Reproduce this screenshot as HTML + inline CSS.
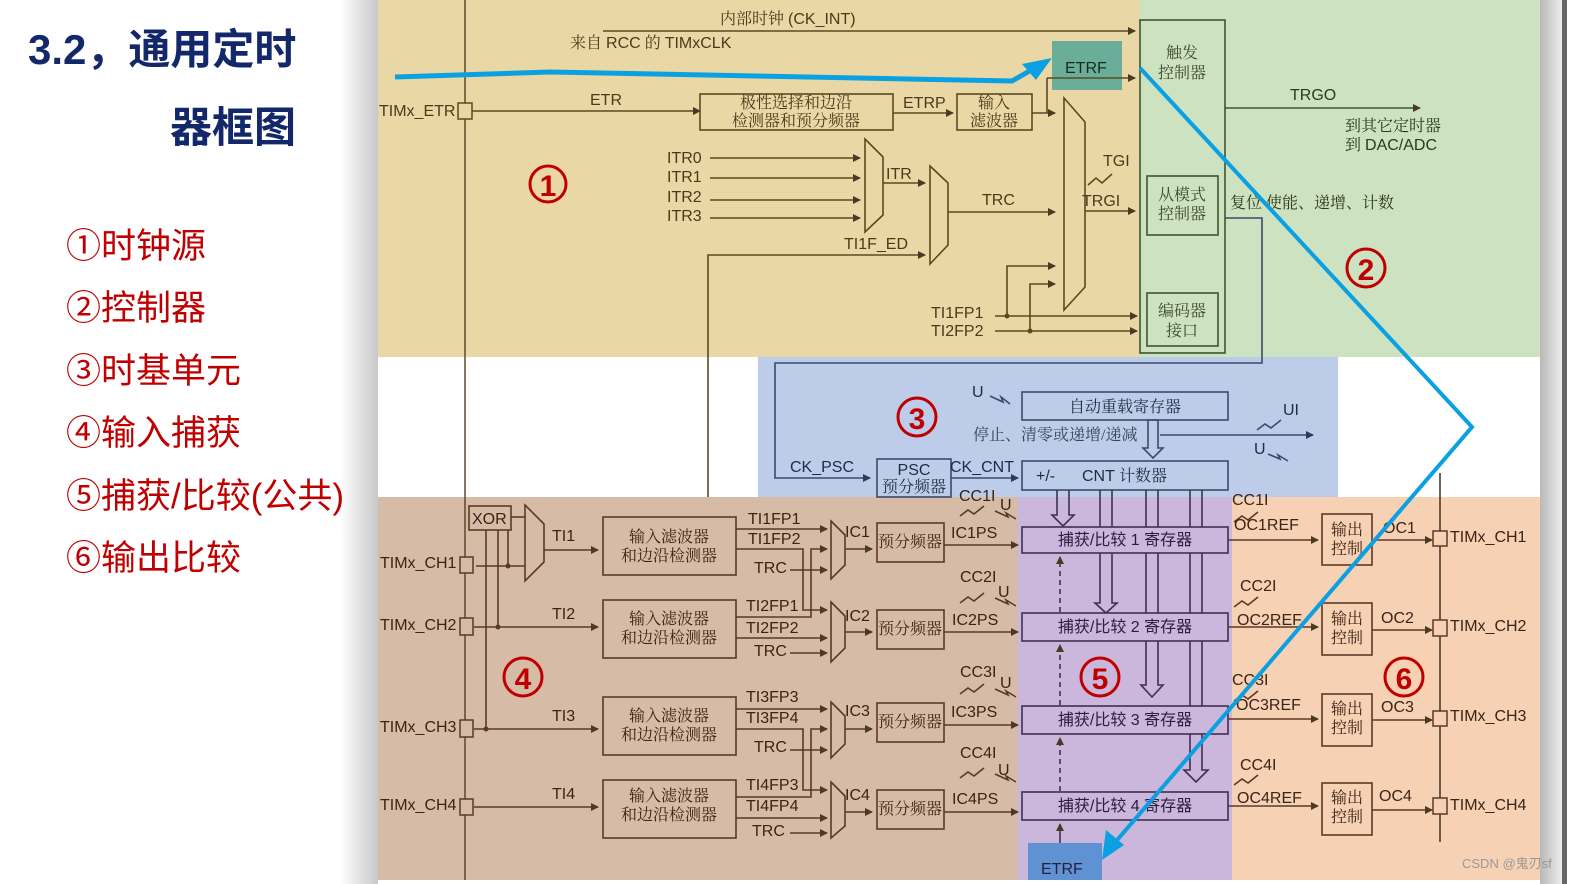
<!DOCTYPE html>
<html><head><meta charset="utf-8"><style>
html,body{margin:0;padding:0;background:#fff;}
svg{display:block;}
.s{font-family:"Liberation Sans","Noto Sans CJK SC",sans-serif;}
.c{font-family:"Liberation Serif","Noto Serif CJK SC",serif;}
</style></head><body>
<svg width="1576" height="884" viewBox="0 0 1576 884" xmlns="http://www.w3.org/2000/svg">
<defs>
<marker id="a" markerWidth="8" markerHeight="8" refX="7" refY="4" orient="auto" markerUnits="userSpaceOnUse"><path d="M0,0 L8,4 L0,8 z" fill="#4a3a22"/></marker>
<marker id="ab" markerWidth="8" markerHeight="8" refX="7" refY="4" orient="auto" markerUnits="userSpaceOnUse"><path d="M0,0 L8,4 L0,8 z" fill="#2e3a58"/></marker>
<linearGradient id="sh" x1="0" x2="1"><stop offset="0" stop-color="#fff"/><stop offset="1" stop-color="#c8c8c8"/></linearGradient>
<linearGradient id="sh2" x1="0" x2="1"><stop offset="0" stop-color="#b8b8b8"/><stop offset="1" stop-color="#eee"/></linearGradient>
</defs>
<rect x="0" y="0" width="1576" height="884" fill="#fff"/>
<rect x="340" y="0" width="38" height="884" fill="url(#sh)"/>
<rect x="1540" y="0" width="22" height="884" fill="url(#sh2)"/>
<rect x="1562" y="0" width="5" height="884" fill="#666"/>
<rect x="378" y="0" width="762" height="357" fill="#ead7a6"/>
<rect x="1140" y="0" width="400" height="357" fill="#cde2c0"/>
<rect x="378" y="357" width="1162" height="140" fill="#fff"/>
<rect x="758" y="357" width="580" height="140" fill="#bdcce9"/>
<rect x="378" y="497" width="640" height="383" fill="#d6bba6"/>
<rect x="1018" y="497" width="214" height="383" fill="#cbb6dc"/>
<rect x="1232" y="497" width="308" height="383" fill="#f7d1b4"/>

<text x="28" y="64" font-size="42" font-weight="bold" fill="#13286a" class="s">3.2，通用定时</text>
<text x="170" y="142" font-size="42" font-weight="bold" fill="#13286a" class="s">器框图</text>
<g font-size="35" fill="#c00000" class="s">
<text x="66" y="258">①时钟源</text>
<text x="66" y="320">②控制器</text>
<text x="66" y="383">③时基单元</text>
<text x="66" y="445">④输入捕获</text>
<text x="66" y="508">⑤捕获/比较(公共)</text>
<text x="66" y="570">⑥输出比较</text>
</g>

<line x1="465" y1="0" x2="465" y2="880" stroke="#5a4a2a" stroke-width="1.5"/>

<g stroke="#5a4a22" stroke-width="1.6" fill="none">
<line x1="603" y1="31" x2="1135" y2="31" marker-end="url(#a)"/>
<line x1="472" y1="111" x2="700" y2="111" marker-end="url(#a)"/>
<rect x="700" y="94" width="193" height="36"/>
<line x1="893" y1="113" x2="953" y2="113" marker-end="url(#a)"/>
<rect x="957" y="94" width="75" height="36"/>
<line x1="1032" y1="113" x2="1055" y2="113" marker-end="url(#a)"/>
<polyline points="1047,113 1047,78"/>
<line x1="710" y1="158" x2="860" y2="158" marker-end="url(#a)"/>
<line x1="710" y1="178" x2="860" y2="178" marker-end="url(#a)"/>
<line x1="710" y1="200" x2="860" y2="200" marker-end="url(#a)"/>
<line x1="710" y1="218" x2="860" y2="218" marker-end="url(#a)"/>
<polygon points="865,139 883,157 883,215 865,232"/>
<line x1="883" y1="183" x2="925" y2="183" marker-end="url(#a)"/>
<polygon points="930,166 948,183 948,245 930,264"/>
<line x1="948" y1="212" x2="1055" y2="212" marker-end="url(#a)"/>
<polyline points="708,497 708,255 925,255" marker-end="url(#a)"/>
<polygon points="1064,98 1085,122 1085,287 1064,310"/>
<line x1="1085" y1="211" x2="1135" y2="211" marker-end="url(#a)"/>
<line x1="995" y1="316" x2="1137" y2="316" marker-end="url(#a)"/>
<line x1="995" y1="331" x2="1137" y2="331" marker-end="url(#a)"/>
<polyline points="1007,316 1007,266 1055,266" marker-end="url(#a)"/>
<polyline points="1030,331 1030,284 1055,284" marker-end="url(#a)"/>
<polyline points="1088,185 1096,178 1102,183 1112,174"/>
</g>
<circle cx="1007" cy="316" r="2.5" fill="#5a4a22"/><circle cx="1030" cy="331" r="2.5" fill="#5a4a22"/>
<rect x="458" y="103" width="14" height="16" fill="#ead7a6" stroke="#5a4a22" stroke-width="1.5"/>
<rect x="1052" y="41" width="70" height="49" fill="#6aae9a"/>
<line x1="1047" y1="78" x2="1135" y2="78" stroke="#5a4a22" stroke-width="1.6" marker-end="url(#a)"/>
<g class="s" font-size="16" fill="#4a3a1a">
<text x="720" y="24" class="c">内部时钟 <tspan class="s">(CK_INT)</tspan></text>
<text x="570" y="48" class="c">来自 <tspan class="s">RCC</tspan> 的 <tspan class="s">TIMxCLK</tspan></text>
<text x="1065" y="73" fill="#1a2a1a">ETRF</text>
<text x="379" y="116">TIMx_ETR</text>
<text x="590" y="105">ETR</text>
<text x="903" y="108">ETRP</text>
<text x="796" y="108" text-anchor="middle" class="c">极性选择和边沿</text>
<text x="796" y="126" text-anchor="middle" class="c">检测器和预分频器</text>
<text x="994" y="108" text-anchor="middle" class="c">输入</text>
<text x="994" y="126" text-anchor="middle" class="c">滤波器</text>
<text x="667" y="163">ITR0</text><text x="667" y="182">ITR1</text><text x="667" y="202">ITR2</text><text x="667" y="221">ITR3</text>
<text x="886" y="179">ITR</text>
<text x="982" y="205">TRC</text>
<text x="844" y="249">TI1F_ED</text>
<text x="1103" y="166">TGI</text>
<text x="1082" y="206">TRGI</text>
<text x="931" y="318">TI1FP1</text>
<text x="931" y="336">TI2FP2</text>
</g>
<circle cx="548" cy="184" r="18" fill="none" stroke="#c00000" stroke-width="3"/>
<text x="548" y="196" text-anchor="middle" font-size="30" font-weight="bold" fill="#c00000" class="s">1</text>

<g stroke="#3e5530" stroke-width="1.6" fill="none">
<rect x="1140" y="20" width="85" height="333"/>
<rect x="1147" y="176" width="71" height="59"/>
<rect x="1147" y="293" width="71" height="53"/>
<line x1="1225" y1="108" x2="1420" y2="108" marker-end="url(#a)"/>
<polyline points="1225,218 1262,218 1262,363 775,363 775,478 870,478" stroke="#3a4a68" marker-end="url(#ab)"/>
</g>
<g class="c" font-size="16" fill="#3a4a2a" text-anchor="middle">
<text x="1182" y="58">触发</text><text x="1182" y="78">控制器</text>
<text x="1182" y="200">从模式</text><text x="1182" y="219">控制器</text>
<text x="1182" y="316">编码器</text><text x="1182" y="336">接口</text>
</g>
<g class="s" font-size="16" fill="#2a3a1a">
<text x="1290" y="100">TRGO</text>
<text x="1345" y="131" class="c">到其它定时器</text>
<text x="1345" y="150" class="c">到 <tspan class="s">DAC/ADC</tspan></text>
<text x="1230" y="208" class="c">复位  使能、递增、计数</text>
</g>
<circle cx="1366" cy="268" r="19" fill="none" stroke="#c00000" stroke-width="3"/>
<text x="1366" y="280" text-anchor="middle" font-size="30" font-weight="bold" fill="#c00000" class="s">2</text>

<g stroke="#3a4a68" stroke-width="1.6" fill="none">
<rect x="877" y="459" width="74" height="38" fill="#bdcce9"/>
<line x1="951" y1="478" x2="1018" y2="478" marker-end="url(#ab)"/>
<rect x="1022" y="392" width="206" height="28"/>
<rect x="1022" y="461" width="206" height="29"/>
<polygon points="1148,420 1158,420 1158,448 1163,448 1153,458 1143,448 1148,448"/>
<line x1="1160" y1="435" x2="1313" y2="435" marker-end="url(#ab)"/>
<polyline points="990,396 1003,402 1001,397 1010,404"/>
<polyline points="1257,430 1265,424 1271,428 1281,420"/>
<polyline points="1268,454 1280,459 1278,455 1288,461"/>
</g>
<g class="s" font-size="16" fill="#1e2a48">
<text x="972" y="397">U</text>
<text x="1283" y="415">UI</text>
<text x="1254" y="454">U</text>
<text x="973" y="440" class="c" fill="#3a4258">停止、清零或递增/递减</text>
<text x="1125" y="412" class="c" text-anchor="middle">自动重载寄存器</text>
<text x="1036" y="481">+/-</text>
<text x="1082" y="481">CNT <tspan class="c">计数器</tspan></text>
<text x="914" y="475" text-anchor="middle">PSC</text>
<text x="914" y="492" text-anchor="middle" class="c">预分频器</text>
<text x="790" y="472">CK_PSC</text>
<text x="950" y="472">CK_CNT</text>
</g>
<circle cx="917" cy="417" r="19" fill="none" stroke="#c00000" stroke-width="3"/>
<text x="917" y="429" text-anchor="middle" font-size="30" font-weight="bold" fill="#c00000" class="s">3</text>

<g stroke="#5a3a26" stroke-width="1.6" fill="none">
<rect x="469" y="506" width="42" height="24"/>
<polygon points="525,505 544,524 544,562 525,581"/>
<line x1="511" y1="517" x2="525" y2="517"/>
<line x1="476" y1="566" x2="525" y2="566"/>
<line x1="508" y1="530" x2="508" y2="566"/>
<line x1="498" y1="530" x2="498" y2="627"/>
<line x1="486" y1="530" x2="486" y2="729"/>
<line x1="544" y1="550" x2="598" y2="550" marker-end="url(#a)"/>
<line x1="474" y1="627" x2="598" y2="627" marker-end="url(#a)"/>
<line x1="474" y1="729" x2="598" y2="729" marker-end="url(#a)"/>
<line x1="474" y1="807" x2="598" y2="807" marker-end="url(#a)"/>
<rect x="603" y="517" width="133" height="58"/>
<rect x="603" y="600" width="133" height="58"/>
<rect x="603" y="697" width="133" height="58"/>
<rect x="603" y="780" width="133" height="58"/>
<line x1="736" y1="529" x2="827" y2="529" marker-end="url(#a)"/>
<polyline points="736,549 803,549 803,610 827,610" marker-end="url(#a)"/>
<polyline points="736,617 811,617 811,549 827,549" marker-end="url(#a)"/>
<line x1="736" y1="638" x2="827" y2="638" marker-end="url(#a)"/>
<line x1="790" y1="570" x2="827" y2="570" marker-end="url(#a)"/>
<line x1="790" y1="653" x2="827" y2="653" marker-end="url(#a)"/>
<line x1="736" y1="709" x2="827" y2="709" marker-end="url(#a)"/>
<polyline points="736,729 803,729 803,790 827,790" marker-end="url(#a)"/>
<polyline points="736,797 811,797 811,729 827,729" marker-end="url(#a)"/>
<line x1="736" y1="818" x2="827" y2="818" marker-end="url(#a)"/>
<line x1="790" y1="750" x2="827" y2="750" marker-end="url(#a)"/>
<line x1="790" y1="833" x2="827" y2="833" marker-end="url(#a)"/>
<polygon points="831,521 845,535 845,565 831,579"/>
<polygon points="831,602 845,616 845,648 831,662"/>
<polygon points="831,702 845,716 845,744 831,758"/>
<polygon points="831,782 845,796 845,826 831,838"/>
<line x1="845" y1="549" x2="872" y2="549" marker-end="url(#a)"/>
<line x1="845" y1="632" x2="872" y2="632" marker-end="url(#a)"/>
<line x1="845" y1="729" x2="872" y2="729" marker-end="url(#a)"/>
<line x1="845" y1="812" x2="872" y2="812" marker-end="url(#a)"/>
<rect x="877" y="523" width="67" height="39"/>
<rect x="877" y="610" width="67" height="39"/>
<rect x="877" y="703" width="67" height="39"/>
<rect x="877" y="790" width="67" height="39"/>
<line x1="944" y1="545" x2="1018" y2="545" marker-end="url(#a)"/>
<line x1="944" y1="632" x2="1018" y2="632" marker-end="url(#a)"/>
<line x1="944" y1="725" x2="1018" y2="725" marker-end="url(#a)"/>
<line x1="944" y1="812" x2="1018" y2="812" marker-end="url(#a)"/>
<polyline points="960,516 968,510 974,514 984,506"/>
<polyline points="960,603 968,597 974,601 984,593"/>
<polyline points="960,694 968,688 974,692 984,684"/>
<polyline points="960,778 968,772 974,776 984,768"/>
<polyline points="995,511 1008,517 1006,513 1016,519"/>
<polyline points="995,598 1008,604 1006,600 1016,606"/>
<polyline points="995,689 1008,695 1006,691 1016,697"/>
<polyline points="995,774 1008,780 1006,776 1016,782"/>
</g>
<g fill="#5a3a26"><circle cx="508" cy="566" r="2.5"/><circle cx="498" cy="627" r="2.5"/><circle cx="486" cy="729" r="2.5"/></g>
<g fill="#d6bba6" stroke="#5a3a26" stroke-width="1.5">
<rect x="460" y="557" width="13" height="16"/><rect x="460" y="618" width="13" height="17"/>
<rect x="460" y="720" width="13" height="17"/><rect x="460" y="799" width="13" height="16"/>
</g>
<g class="s" font-size="16" fill="#3a2416">
<text x="472" y="524">XOR</text>
<text x="380" y="568">TIMx_CH1</text><text x="380" y="630">TIMx_CH2</text>
<text x="380" y="732">TIMx_CH3</text><text x="380" y="810">TIMx_CH4</text>
<text x="552" y="541">TI1</text><text x="552" y="619">TI2</text><text x="552" y="721">TI3</text><text x="552" y="799">TI4</text>
<text x="748" y="524">TI1FP1</text><text x="748" y="544">TI1FP2</text><text x="754" y="573">TRC</text>
<text x="746" y="611">TI2FP1</text><text x="746" y="633">TI2FP2</text><text x="754" y="656">TRC</text>
<text x="746" y="702">TI3FP3</text><text x="746" y="723">TI3FP4</text><text x="754" y="752">TRC</text>
<text x="746" y="790">TI4FP3</text><text x="746" y="811">TI4FP4</text><text x="752" y="836">TRC</text>
<text x="845" y="537">IC1</text><text x="845" y="621">IC2</text><text x="845" y="716">IC3</text><text x="845" y="800">IC4</text>
<text x="951" y="538">IC1PS</text><text x="952" y="625">IC2PS</text><text x="951" y="717">IC3PS</text><text x="952" y="804">IC4PS</text>
<text x="959" y="501">CC1I</text><text x="960" y="582">CC2I</text><text x="960" y="677">CC3I</text><text x="960" y="758">CC4I</text>
<text x="1000" y="510">U</text><text x="998" y="597">U</text><text x="1000" y="688">U</text><text x="998" y="775">U</text>
</g>
<g class="c" font-size="16" fill="#3a2416" text-anchor="middle">
<text x="669" y="542">输入滤波器</text><text x="669" y="561">和边沿检测器</text>
<text x="669" y="624">输入滤波器</text><text x="669" y="643">和边沿检测器</text>
<text x="669" y="721">输入滤波器</text><text x="669" y="740">和边沿检测器</text>
<text x="669" y="801">输入滤波器</text><text x="669" y="820">和边沿检测器</text>
<text x="910" y="547">预分频器</text><text x="910" y="634">预分频器</text>
<text x="910" y="727">预分频器</text><text x="910" y="814">预分频器</text>
</g>
<circle cx="523" cy="677" r="19" fill="none" stroke="#c00000" stroke-width="3"/>
<text x="523" y="689" text-anchor="middle" font-size="30" font-weight="bold" fill="#c00000" class="s">4</text>

<g stroke="#3e3050" stroke-width="1.6" fill="none">
<polyline points="1057,490 1057,515 1052,515 1063,526 1074,515 1069,515 1069,490"/>
<polyline points="1100,490 1100,603 1095,603 1106,613 1117,603 1112,603 1112,490"/>
<polyline points="1146,490 1146,685 1141,685 1152,697 1163,685 1158,685 1158,490"/>
<polyline points="1190,490 1190,770 1184,770 1196,782 1208,770 1202,770 1202,490"/>
<rect x="1022" y="527" width="206" height="26" fill="#cbb6dc"/>
<rect x="1022" y="613" width="206" height="28" fill="#cbb6dc"/>
<rect x="1022" y="706" width="206" height="28" fill="#cbb6dc"/>
<rect x="1022" y="792" width="206" height="28" fill="#cbb6dc"/>
<line x1="1060" y1="612" x2="1060" y2="557" stroke-dasharray="5,4" marker-end="url(#a)"/>
<line x1="1060" y1="705" x2="1060" y2="645" stroke-dasharray="5,4" marker-end="url(#a)"/>
<line x1="1060" y1="791" x2="1060" y2="738" stroke-dasharray="5,4" marker-end="url(#a)"/>
<line x1="1060" y1="843" x2="1060" y2="824" marker-end="url(#a)"/>
</g>
<rect x="1028" y="843" width="74" height="37" fill="#5e92d2"/>
<g class="s" font-size="16" fill="#2a1e3a">
<text x="1041" y="874">ETRF</text>
<text x="1125" y="545" text-anchor="middle">捕获/比较 1 寄存器</text>
<text x="1125" y="632" text-anchor="middle">捕获/比较 2 寄存器</text>
<text x="1125" y="725" text-anchor="middle">捕获/比较 3 寄存器</text>
<text x="1125" y="811" text-anchor="middle">捕获/比较 4 寄存器</text>
</g>
<circle cx="1100" cy="677" r="19" fill="none" stroke="#c00000" stroke-width="3"/>
<text x="1100" y="689" text-anchor="middle" font-size="30" font-weight="bold" fill="#c00000" class="s">5</text>

<g stroke="#5a3a26" stroke-width="1.6" fill="none">
<line x1="1228" y1="540" x2="1318" y2="540" marker-end="url(#a)"/>
<line x1="1228" y1="627" x2="1318" y2="627" marker-end="url(#a)"/>
<line x1="1228" y1="719" x2="1318" y2="719" marker-end="url(#a)"/>
<line x1="1228" y1="806" x2="1318" y2="806" marker-end="url(#a)"/>
<rect x="1322" y="514" width="50" height="51"/>
<rect x="1322" y="603" width="50" height="52"/>
<rect x="1322" y="694" width="50" height="52"/>
<rect x="1322" y="783" width="50" height="52"/>
<line x1="1372" y1="540" x2="1432" y2="540" marker-end="url(#a)"/>
<line x1="1372" y1="630" x2="1432" y2="630" marker-end="url(#a)"/>
<line x1="1372" y1="720" x2="1432" y2="720" marker-end="url(#a)"/>
<line x1="1372" y1="810" x2="1432" y2="810" marker-end="url(#a)"/>
<line x1="1440" y1="473" x2="1440" y2="842" stroke="#4a3a2a"/>
<polyline points="1234,522 1242,516 1248,520 1258,512"/>
<polyline points="1234,607 1242,601 1248,605 1258,597"/>
<polyline points="1234,701 1242,695 1248,699 1258,691"/>
<polyline points="1234,785 1242,779 1248,783 1258,775"/>
</g>
<g fill="#f7d1b4" stroke="#5a3a26" stroke-width="1.5">
<rect x="1433" y="531" width="14" height="15"/><rect x="1433" y="620" width="14" height="16"/>
<rect x="1433" y="711" width="14" height="15"/><rect x="1433" y="798" width="14" height="16"/>
</g>
<g class="s" font-size="16" fill="#3a2416">
<text x="1232" y="505">CC1I</text><text x="1240" y="591">CC2I</text><text x="1232" y="685">CC3I</text><text x="1240" y="770">CC4I</text>
<text x="1234" y="530">OC1REF</text><text x="1237" y="625">OC2REF</text><text x="1236" y="710">OC3REF</text><text x="1237" y="803">OC4REF</text>
<text x="1383" y="533">OC1</text><text x="1381" y="623">OC2</text><text x="1381" y="712">OC3</text><text x="1379" y="801">OC4</text>
<text x="1450" y="542">TIMx_CH1</text><text x="1450" y="631">TIMx_CH2</text><text x="1450" y="721">TIMx_CH3</text><text x="1450" y="810">TIMx_CH4</text>
</g>
<g class="c" font-size="16" fill="#3a2416" text-anchor="middle">
<text x="1347" y="535">输出</text><text x="1347" y="554">控制</text>
<text x="1347" y="624">输出</text><text x="1347" y="643">控制</text>
<text x="1347" y="714">输出</text><text x="1347" y="733">控制</text>
<text x="1347" y="803">输出</text><text x="1347" y="822">控制</text>
</g>
<circle cx="1404" cy="677" r="19" fill="none" stroke="#c00000" stroke-width="3"/>
<text x="1404" y="689" text-anchor="middle" font-size="30" font-weight="bold" fill="#c00000" class="s">6</text>

<polyline points="395,77 550,72 1012,81 1040,65" fill="none" stroke="#0aa0e2" stroke-width="5" stroke-linejoin="round"/>
<polygon points="1052,58 1022,64 1036,80" fill="#0aa0e2"/>
<polyline points="1140,68 1472,427 1112,846" fill="none" stroke="#0aa0e2" stroke-width="4" stroke-linejoin="miter"/>
<polygon points="1102,860 1106,830 1124,845" fill="#0aa0e2"/>
<text x="1462" y="868" class="s" font-size="13" fill="#999">CSDN @鬼刃sf</text>
</svg>
</body></html>
